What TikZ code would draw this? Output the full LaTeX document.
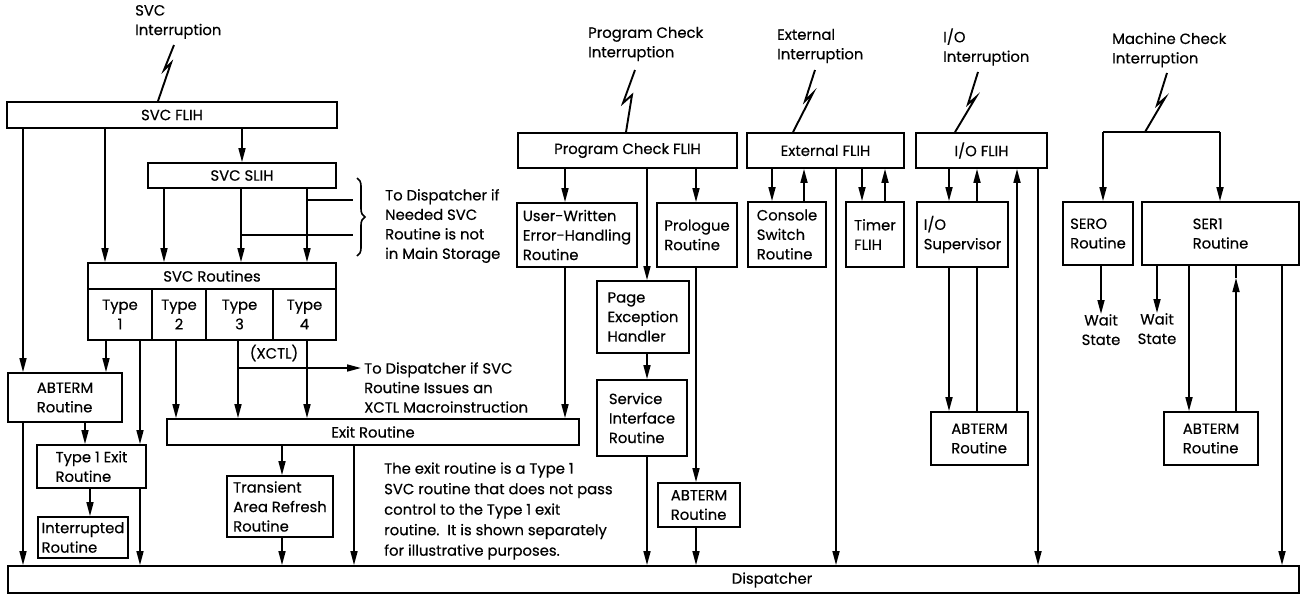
\documentclass[tikz,border=0pt]{standalone}
\usepackage{fontspec}
\setmainfont[FakeBold=0.4]{Poppins}
\usetikzlibrary{arrows.meta,decorations.pathreplacing}
\newcommand\lbl{\fontsize{14.8}{19.5}\selectfont}
\newcommand\vlink[4][arr]{\draw[#1] (#3 -| #2,0) -- (#4 -| #2,0);}
\tikzset{
  box/.style={draw, line width=1.8pt, align=left, inner sep=0pt, font=\lbl},
  arr/.style={line width=1.6pt, -{Triangle[length=14pt,width=7pt]}},
  ln/.style={line width=1.6pt},
  bolt/.style={line width=1.9pt, line join=miter},
  txt/.style={align=left, inner sep=0pt, font=\lbl}
}
\begin{document}
\begin{tikzpicture}[x=1pt,y=-1pt]
\useasboundingbox (0,0) rectangle (1308,595);

% ---------- SVC part ----------
\node[box, minimum width=330pt, minimum height=26pt] (svcflih) at (172,115) {SVC FLIH};
\node[box, minimum width=188pt, minimum height=25pt] (svcslih) at (242,175.5) {SVC SLIH};
\node[box, minimum width=248pt, minimum height=26pt] (svcrout) at (212,276) {SVC Routines};
\node[box, align=center, minimum width=64pt, minimum height=51pt] (type1) at (120,314.5) {Type\\1};
\node[box, align=center, minimum width=54pt, minimum height=51pt] (type2) at (179,314.5) {Type\\2};
\node[box, align=center, minimum width=67pt, minimum height=51pt] (type3) at (239.5,314.5) {Type\\3};
\node[box, align=center, minimum width=63pt, minimum height=51pt] (type4) at (304.5,314.5) {Type\\4};
\node[box, minimum width=114pt, minimum height=49pt] (abterm1) at (65,397.5) {ABTERM\\Routine};
\node[box, minimum width=109pt, minimum height=43pt] (t1exit) at (91.5,466.5) {Type 1 Exit\\Routine};
\node[box, minimum width=90pt, minimum height=41pt] (interr) at (83,537.5) {Interrupted\\Routine};
\node[box, minimum width=412pt, minimum height=26pt] (exitr) at (373,432) {Exit Routine};
\node[box, minimum width=106pt, minimum height=61pt] (transient) at (280,506.5) {Transient\\Area Refresh\\Routine};

% ---------- Dispatcher ----------
\node[box, minimum width=1291pt, minimum height=27pt] (disp) at (653.5,579.5) {};
\node[txt] (disptext) at (772,580) {Dispatcher};

% ---------- Program check ----------
\node[box, minimum width=219pt, minimum height=35pt] (pcflih) at (627.5,150.5) {Program Check FLIH};
\node[box, minimum width=120pt, minimum height=64pt] (userw) at (577,235) {User-Written\\Error-Handling\\Routine};
\node[box, minimum width=80pt, minimum height=64pt] (prologue) at (697,235) {Prologue\\Routine};
\node[box, minimum width=92pt, minimum height=72pt] (pageex) at (643,317) {Page\\Exception\\Handler};
\node[box, minimum width=90pt, minimum height=76pt] (servint) at (642,418) {Service\\Interface\\Routine};
\node[box, minimum width=82pt, minimum height=44pt] (abterm2) at (699,505) {ABTERM\\Routine};

% ---------- External ----------
\node[box, minimum width=157pt, minimum height=35pt] (extflih) at (825.5,150.5) {External FLIH};
\node[box, minimum width=78pt, minimum height=65pt] (console) at (787,234.5) {Console\\Switch\\Routine};
\node[box, minimum width=58pt, minimum height=65pt] (timer) at (875,234.5) {Timer\\FLIH};

% ---------- I/O ----------
\node[box, minimum width=131pt, minimum height=35pt] (ioflih) at (981.5,150.5) {I/O FLIH};
\node[box, minimum width=91pt, minimum height=65pt] (iosup) at (962.5,234.5) {I/O\\Supervisor};
\node[box, minimum width=97pt, minimum height=53pt] (abterm3) at (979.5,438.5) {ABTERM\\Routine};

% ---------- Machine check ----------
\node[box, minimum width=70pt, minimum height=63pt] (ser0) at (1098,233.5) {SERO\\Routine};
\node[box, minimum width=157pt, minimum height=63pt] (ser1) at (1220.5,233.5) {SER1\\Routine};
\node[box, minimum width=94pt, minimum height=53pt] (abterm4) at (1211,438.5) {ABTERM\\Routine};
\node[txt, align=center, anchor=north] (wait1) at (1101,314) {Wait\\State};
\node[txt, align=center, anchor=north] (wait2) at (1157,313) {Wait\\State};

% ---------- Interruption labels ----------
\node[txt, anchor=west] (lsvc) at (135,22) {SVC\\Interruption};
\node[txt, anchor=west] (lpc) at (588,44) {Program Check\\Interruption};
\node[txt, anchor=west] (lext) at (777,46) {External\\Interruption};
\node[txt, anchor=west] (lio) at (943,47) {I/O\\Interruption};
\node[txt, anchor=west] (lmc) at (1112,50) {Machine Check\\Interruption};

% ---------- side texts ----------
\node[txt, anchor=west] (nneeded) at (385,226) {To Dispatcher if\\Needed SVC\\Routine is not\\in Main Storage};
\node[txt, anchor=west] (nxctl) at (364,387.5) {To Dispatcher if SVC\\Routine Issues an\\XCTL Macroinstruction};
\node[txt] (xctl) at (274,353) {(XCTL)};
\node[txt, anchor=west, font=\fontsize{14.8}{20.5}\selectfont] (note) at (384,511) {The exit routine is a Type 1\\SVC routine that does not pass\\control to the Type 1 exit\\routine.\ \ It is shown separately\\for illustrative purposes.};

% ---------- lightning bolts ----------
\draw[bolt] (174,45) -- (164,70) -- (171,63) -- (svcflih.north -| 158,0);
\draw[bolt] (635,70) -- (623,103) -- (632,95) -- (pcflih.north -| 626,0);
\draw[bolt] (815,70) -- (805,101) -- (813,93) -- (extflih.north -| 793,0);
\draw[bolt] (978,72) -- (968,104) -- (976,97) -- (ioflih.north -| 955,0);
\coordinate (mcj) at (1145,132);
\draw[bolt] (1167,73) -- (1157,105) -- (1165,98) -- (mcj);

% ---------- SVC connectors ----------
\vlink{23}{svcflih.south}{abterm1.north}
\vlink{105}{svcflih.south}{svcrout.north}
\vlink{242}{svcflih.south}{svcslih.north}
\vlink{164}{svcslih.south}{svcrout.north}
\vlink{241}{svcslih.south}{svcrout.north}
\vlink{307}{svcslih.south}{svcrout.north}
\coordinate (b1s) at (307,200); \coordinate (b1e) at (353,200);
\coordinate (b2s) at (241,235); \coordinate (b2e) at (353,235);
\draw[ln] (b1s) -- (b1e);
\draw[ln] (b2s) -- (b2e);
\draw[ln, decorate, decoration={brace, amplitude=8pt}] (357,178) -- (357,256);

\vlink{106}{type1.south}{abterm1.north}
\vlink{140}{type1.south}{t1exit.north}
\vlink{176}{type2.south}{exitr.north}
\vlink{238}{type3.south}{exitr.north}
\vlink{307}{type4.south}{exitr.north}
\coordinate (xs) at (238,368); \coordinate (xe) at (361,368);
\draw[arr] (xs) -- (xe);
\vlink{85}{abterm1.south}{t1exit.north}
\vlink{23}{abterm1.south}{disp.north}
\vlink{90}{t1exit.south}{interr.north}
\vlink{140}{t1exit.south}{disp.north}
\vlink{282}{exitr.south}{transient.north}
\vlink{354}{exitr.south}{disp.north}
\vlink{282}{transient.south}{disp.north}
\vlink{565}{userw.south}{exitr.north}

% ---------- Program check connectors ----------
\vlink{565}{pcflih.south}{userw.north}
\vlink{647}{pcflih.south}{pageex.north}
\vlink{696}{pcflih.south}{prologue.north}
\vlink{647}{pageex.south}{servint.north}
\vlink{647}{servint.south}{disp.north}
\vlink{696}{prologue.south}{abterm2.north}
\vlink{696}{abterm2.south}{disp.north}

% ---------- External connectors ----------
\vlink{772}{extflih.south}{console.north}
\vlink{804}{console.north}{extflih.south}
\vlink{836}{extflih.south}{disp.north}
\vlink{862}{extflih.south}{timer.north}
\vlink{885}{timer.north}{extflih.south}

% ---------- I/O connectors ----------
\vlink{949}{ioflih.south}{iosup.north}
\vlink{977}{iosup.north}{ioflih.south}
\vlink{949}{iosup.south}{abterm3.north}
\vlink[ln]{977}{iosup.south}{abterm3.north}
\vlink{1017}{abterm3.north}{ioflih.south}
\vlink{1038}{ioflih.south}{disp.north}

% ---------- Machine check connectors ----------
\draw[ln] (mcj -| 1103,0) -- (mcj -| 1220,0);
\draw[arr] (mcj -| 1103,0) -- (ser0.north -| 1103,0);
\draw[arr] (mcj -| 1220,0) -- (ser1.north -| 1220,0);
\vlink{1101}{ser0.south}{wait1.north}
\vlink{1157}{ser1.south}{wait2.north}
\vlink{1189}{ser1.south}{abterm4.north}
\coordinate (mcmid) at (1236,278);
\draw[arr] (abterm4.north -| 1236,0) -- (mcmid);
\draw[ln] (mcmid) -- (ser1.south -| 1236,0);
\vlink{1282}{ser1.south}{disp.north}
\end{tikzpicture}
\end{document}
